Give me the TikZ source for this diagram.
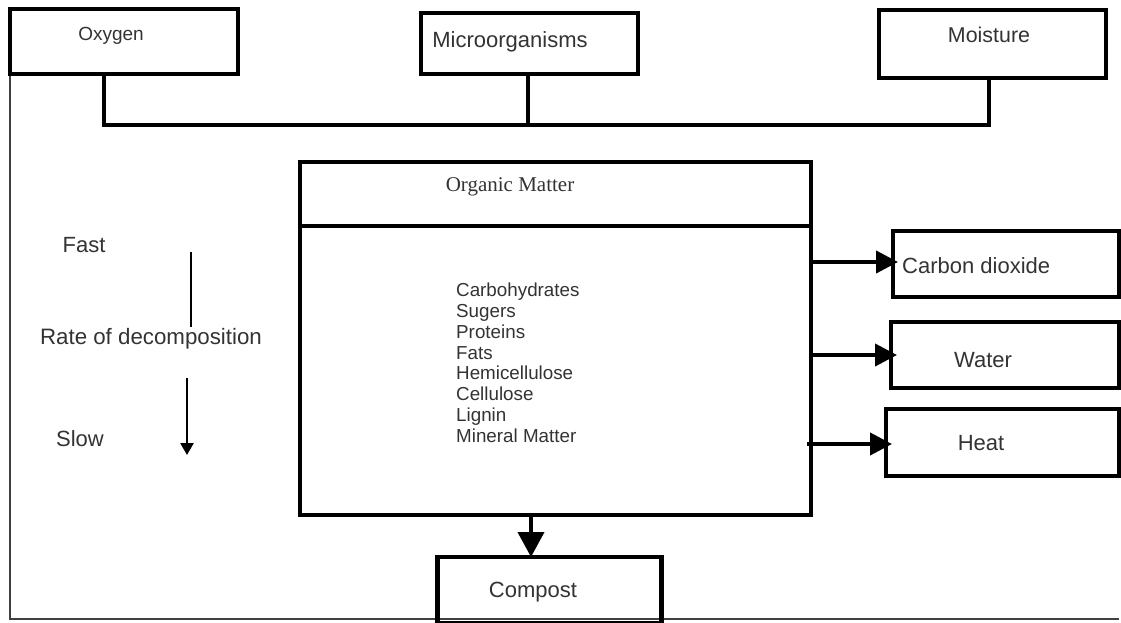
\documentclass[tikz,border=0pt]{standalone}
\usepackage{fontspec}
\setmainfont{Liberation Sans}
\newfontfamily\serifont{Liberation Serif}
\usetikzlibrary{arrows.meta}
\begin{document}
\begin{tikzpicture}[x=1pt,y=-1pt,
  box/.style={draw, line width=4.8pt, inner sep=0pt, outer sep=0pt},
  lbl/.style={inner sep=0pt, anchor=base, text=black!80, font=\fontsize{22}{26}\selectfont},
  conn/.style={line width=4pt},
  bigtip/.style={-{Triangle[length=22pt,width=22pt]}}
]
\useasboundingbox (0,0) rectangle (1121,622);
\fill[white] (0,0) rectangle (1121,622);

% page frame
\draw[line width=1.2pt, black!75] (10,74) -- (10,619) -- (1119,619);

% top boxes
\node[box, minimum width=228pt, minimum height=65pt] (oxy) at (124,41.5) {};
\node[box, minimum width=217pt, minimum height=61pt] (mic) at (529.5,43.5) {};
\node[box, minimum width=227pt, minimum height=68pt] (moi) at (992.5,44) {};
\node[lbl, font=\fontsize{19}{23}\selectfont] (toxy) at (111,40) {Oxygen};
\node[lbl] (tmic) at (510,47) {Microorganisms};
\node[lbl, font=\fontsize{21.4}{25}\selectfont] (tmoi) at (989,42) {Moisture};

\coordinate (jo) at (104,125);
\coordinate (jm) at (528,125);
\coordinate (jr) at (989,125);
\draw[conn] (oxy.south -| jo) -- (jo) -- (jr) -- (moi.south -| jr);
\draw[conn] (mic.south -| jm) -- (jm);

% organic matter
\node[box, minimum width=511pt, minimum height=353pt] (org) at (555.5,338.5) {};
\draw[line width=4.8pt] (org.west |- 0,226) -- (org.east |- 0,226);
\node[lbl, font=\serifont\fontsize{21}{25}\selectfont] (tom) at (510,191) {Organic Matter};
\node[inner sep=0pt, anchor=north west, align=left, text=black!80,
      font=\fontsize{18.8}{20.9}\selectfont] (list) at (456,282.5)
  {Carbohydrates\\Sugers\\Proteins\\Fats\\Hemicellulose\\Cellulose\\Lignin\\Mineral Matter};

% products
\node[box, minimum width=226pt, minimum height=66pt] (co2) at (1006,264) {};
\node[box, minimum width=228pt, minimum height=66pt] (wat) at (1005,355) {};
\node[box, minimum width=233pt, minimum height=67pt] (heat) at (1002.5,442.5) {};
\node[lbl, anchor=base west] (tco2) at (902,273) {Carbon dioxide};
\node[lbl] (twat) at (983,367) {Water};
\node[lbl] (theat) at (981,450) {Heat};

\draw[conn, bigtip] (org.east |- 0,262) -- ([xshift=5pt]co2.west |- 0,262);
\draw[conn, bigtip] (org.east |- 0,355) -- ([xshift=6pt]wat.west |- 0,355);
\draw[conn, bigtip] ([xshift=-4pt]org.east |- 0,444) -- ([xshift=6pt]heat.west |- 0,444);

% compost
\node[box, minimum width=224pt, minimum height=66pt] (comp) at (549.5,590) {};
\node[lbl] (tcomp) at (533,597) {Compost};
\coordinate (ca) at (531,0);
\draw[conn, -{Triangle[length=25pt,width=26pt]}] (org.south -| ca) -- (comp.north -| ca);

% rate of decomposition
\node[lbl] (fast) at (84,252) {Fast};
\node[lbl, font=\fontsize{22.3}{26}\selectfont] (rate) at (151,344) {Rate of decomposition};
\node[lbl] (slow) at (80,446) {Slow};
\coordinate (t1) at (191,252);
\coordinate (t2) at (191,327);
\draw[line width=1.2pt] (t1) -- (t2);
\coordinate (a1) at (187,378);
\coordinate (a2) at (187,455);
\draw[line width=2.5pt, -{Triangle[length=12pt,width=13pt]}] (a1) -- (a2);
\end{tikzpicture}
\end{document}
